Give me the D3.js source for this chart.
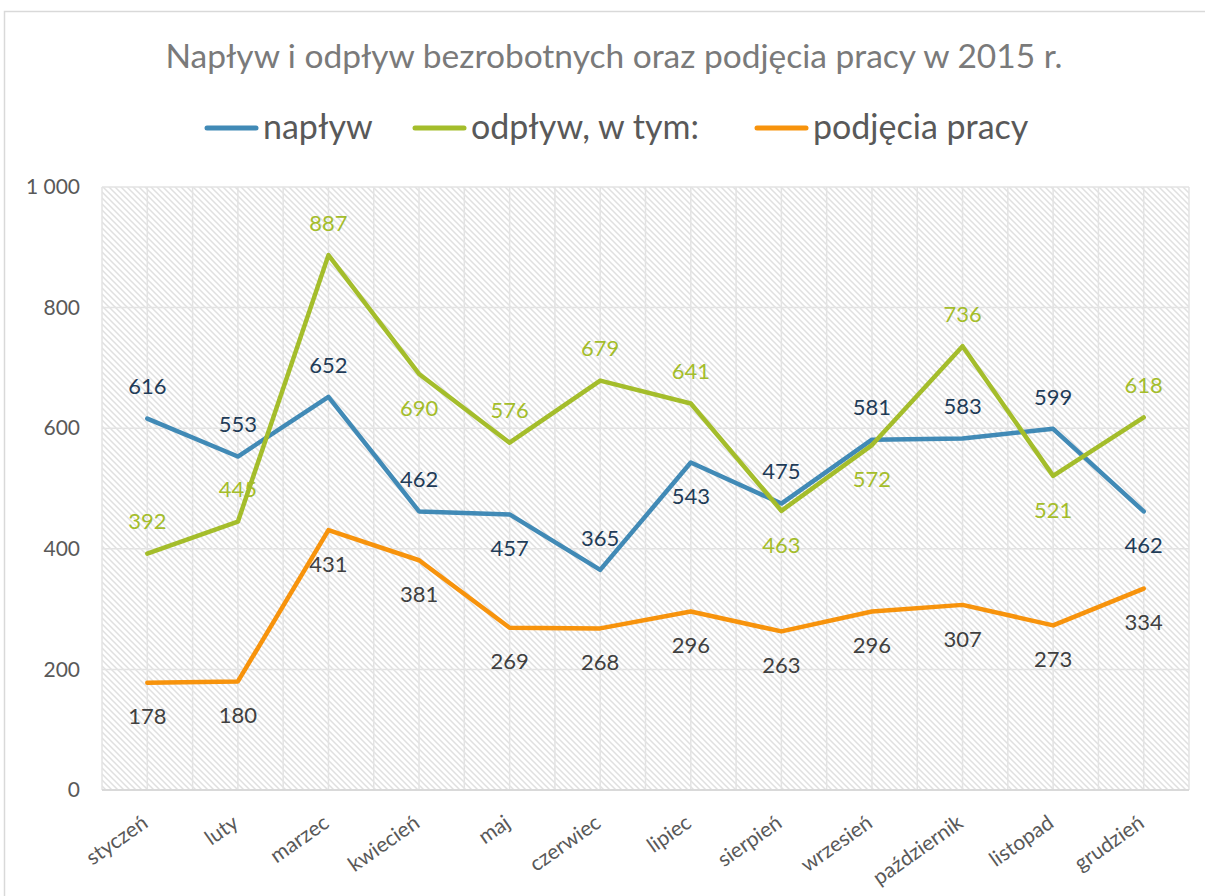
<!DOCTYPE html>
<html>
	<head>
		<meta charset="utf-8">
		<title>Napływ i odpływ bezrobotnych</title>
		<script src="https://cdn.jsdelivr.net/npm/d3@7"></script>
		<style>
			html, body
			{
				margin: 0;
				background: #fff;
				overflow: hidden;
			}
			text
			{
				font-family: Lato, "Open Sans", sans-serif;
			}
		</style>
	</head>
	<body>
		<svg id="chart" width="1205" height="896"></svg>
		<script>
			// data
			const months = ["styczeń", "luty", "marzec", "kwiecień", "maj", "czerwiec",
				"lipiec", "sierpień", "wrzesień", "październik", "listopad", "grudzień"];
			const naplyw = [616, 553, 652, 462, 457, 365, 543, 475, 581, 583, 599, 462];
			const odplyw = [392, 445, 887, 690, 576, 679, 641, 463, 572, 736, 521, 618];
			const podjecia = [178, 180, 431, 381, 269, 268, 296, 263, 296, 307, 273, 334];
			// label above (a) or below (b) the point
			const naplywLab = ["a", "a", "a", "a", "b", "a", "b", "a", "a", "a", "a", "b"];
			const odplywLab = ["a", "a", "a", "b", "a", "a", "a", "b", "b", "a", "b", "a"];
			const podjeciaLab = ["b", "b", "b", "b", "b", "b", "b", "b", "b", "b", "b", "b"];
			const yTicks = [0, 200, 400, 600, 800, 1000];

			const series = [
				{ name: "napływ", values: naplyw, lab: naplywLab, color: "#418ab6", text: "#1f3c58" },
				{ name: "odpływ, w tym:", values: odplyw, lab: odplywLab, color: "#a4bd2b", text: "#a4bd2b" },
				{ name: "podjęcia pracy", values: podjecia, lab: podjeciaLab, color: "#f7930c", text: "#404040" }
			];

			const svg = d3.select("#chart");
			const plotL = 102, plotR = 1189, plotT = 187, plotB = 790;

			// outer frame
			svg.append("rect")
				.attr("x", 4.5).attr("y", 11.5)
				.attr("width", 1230).attr("height", 920)
				.attr("fill", "#fff")
				.attr("stroke", "#d9d9d9")
				.attr("stroke-width", 1.5);

			// hatch pattern for the plot area
			let pat = svg.append("defs").append("pattern")
				.attr("id", "hatch")
				.attr("patternUnits", "userSpaceOnUse")
				.attr("width", 6).attr("height", 6);
			pat.append("rect").attr("width", 6).attr("height", 6).attr("fill", "#fff");
			pat.append("path")
				.attr("d", "M0,0L6,6M-3,3L3,9M3,-3L9,3")
				.attr("stroke", "#e0e0e0")
				.attr("stroke-width", 1.5);

			let x = d3.scaleBand().domain(months).range([plotL, plotR]);
			let xc = (d) => x(d) + x.bandwidth() / 2;
			let y = d3.scaleLinear().domain([0, 1000]).range([plotB, plotT]);

			svg.append("rect")
				.attr("x", plotL).attr("y", plotT)
				.attr("width", plotR - plotL).attr("height", plotB - plotT)
				.attr("fill", "url(#hatch)");

			// grid
			let grid = svg.append("g").attr("stroke", "#e3e3e3").attr("stroke-width", 1.5);
			grid.selectAll(".hg").data(yTicks).enter().append("line")
				.attr("x1", plotL).attr("x2", plotR)
				.attr("y1", d => y(d)).attr("y2", d => y(d));
			let vlines = [];
			months.forEach(m => { vlines.push(x(m)); vlines.push(xc(m)); });
			vlines.push(plotR);
			grid.selectAll(".vg").data(vlines).enter().append("line")
				.attr("x1", d => d).attr("x2", d => d)
				.attr("y1", plotT).attr("y2", plotB);
			svg.append("line")
				.attr("x1", plotL).attr("x2", plotR)
				.attr("y1", plotB).attr("y2", plotB)
				.attr("stroke", "#d9d9d9").attr("stroke-width", 2);

			// y axis
			let yAxis = svg.append("g")
				.attr("transform", `translate(${plotL},0)`)
				.call(d3.axisLeft(y).tickValues(yTicks).tickSize(0).tickPadding(22)
					.tickFormat(d => d3.format(",")(d).replace(",", " ")));
			yAxis.select(".domain").remove();
			yAxis.selectAll("text")
				.attr("font-size", 21)
				.attr("fill", "#595959")
				.attr("font-family", "Lato");

			// x axis
			let xAxis = svg.append("g")
				.attr("transform", `translate(0,${plotB})`)
				.call(d3.axisBottom(x).tickSize(0));
			xAxis.select(".domain").remove();
			xAxis.selectAll("text")
				.attr("font-size", 21)
				.attr("fill", "#595959")
				.attr("font-family", "Lato")
				.attr("text-anchor", "end")
				.attr("dy", 0)
				.attr("y", 0)
				.attr("transform", "translate(2,36) rotate(-35)");

			// lines
			let line = d3.line()
				.x((d, i) => xc(months[i]))
				.y(d => y(d));

			for (let s of series)
			{
				svg.append("path")
					.datum(s.values)
					.attr("d", line)
					.attr("fill", "none")
					.attr("stroke", s.color)
					.attr("stroke-width", 4.5)
					.attr("stroke-linejoin", "round")
					.attr("stroke-linecap", "round");
			}

			// data labels
			for (let s of series)
			{
				svg.append("g").selectAll("text")
					.data(s.values)
					.enter().append("text")
					.attr("x", (d, i) => xc(months[i]))
					.attr("y", (d, i) => y(d) + (s.lab[i] == "a" ? -32 : 34))
					.attr("dy", "0.35em")
					.attr("text-anchor", "middle")
					.attr("font-size", 22)
					.attr("fill", s.text)
					.text(d => d);
			}

			// title
			svg.append("text")
				.attr("x", 614).attr("y", 68)
				.attr("text-anchor", "middle")
				.attr("font-size", 33.5)
				.attr("fill", "#7a7a7a")
				.text("Napływ i odpływ bezrobotnych oraz podjęcia pracy w 2015 r.");

			// legend
			const legX = [205, 413, 755];
			let leg = svg.append("g");
			series.forEach((s, i) =>
			{
				leg.append("line")
					.attr("x1", legX[i] + 2).attr("x2", legX[i] + 51)
					.attr("y1", 128).attr("y2", 128)
					.attr("stroke", s.color)
					.attr("stroke-width", 5)
					.attr("stroke-linecap", "round");
				leg.append("text")
					.attr("x", legX[i] + 58).attr("y", 139)
					.attr("font-size", 34)
					.attr("fill", "#595959")
					.text(s.name);
			});
		</script>
	</body>
</html>
